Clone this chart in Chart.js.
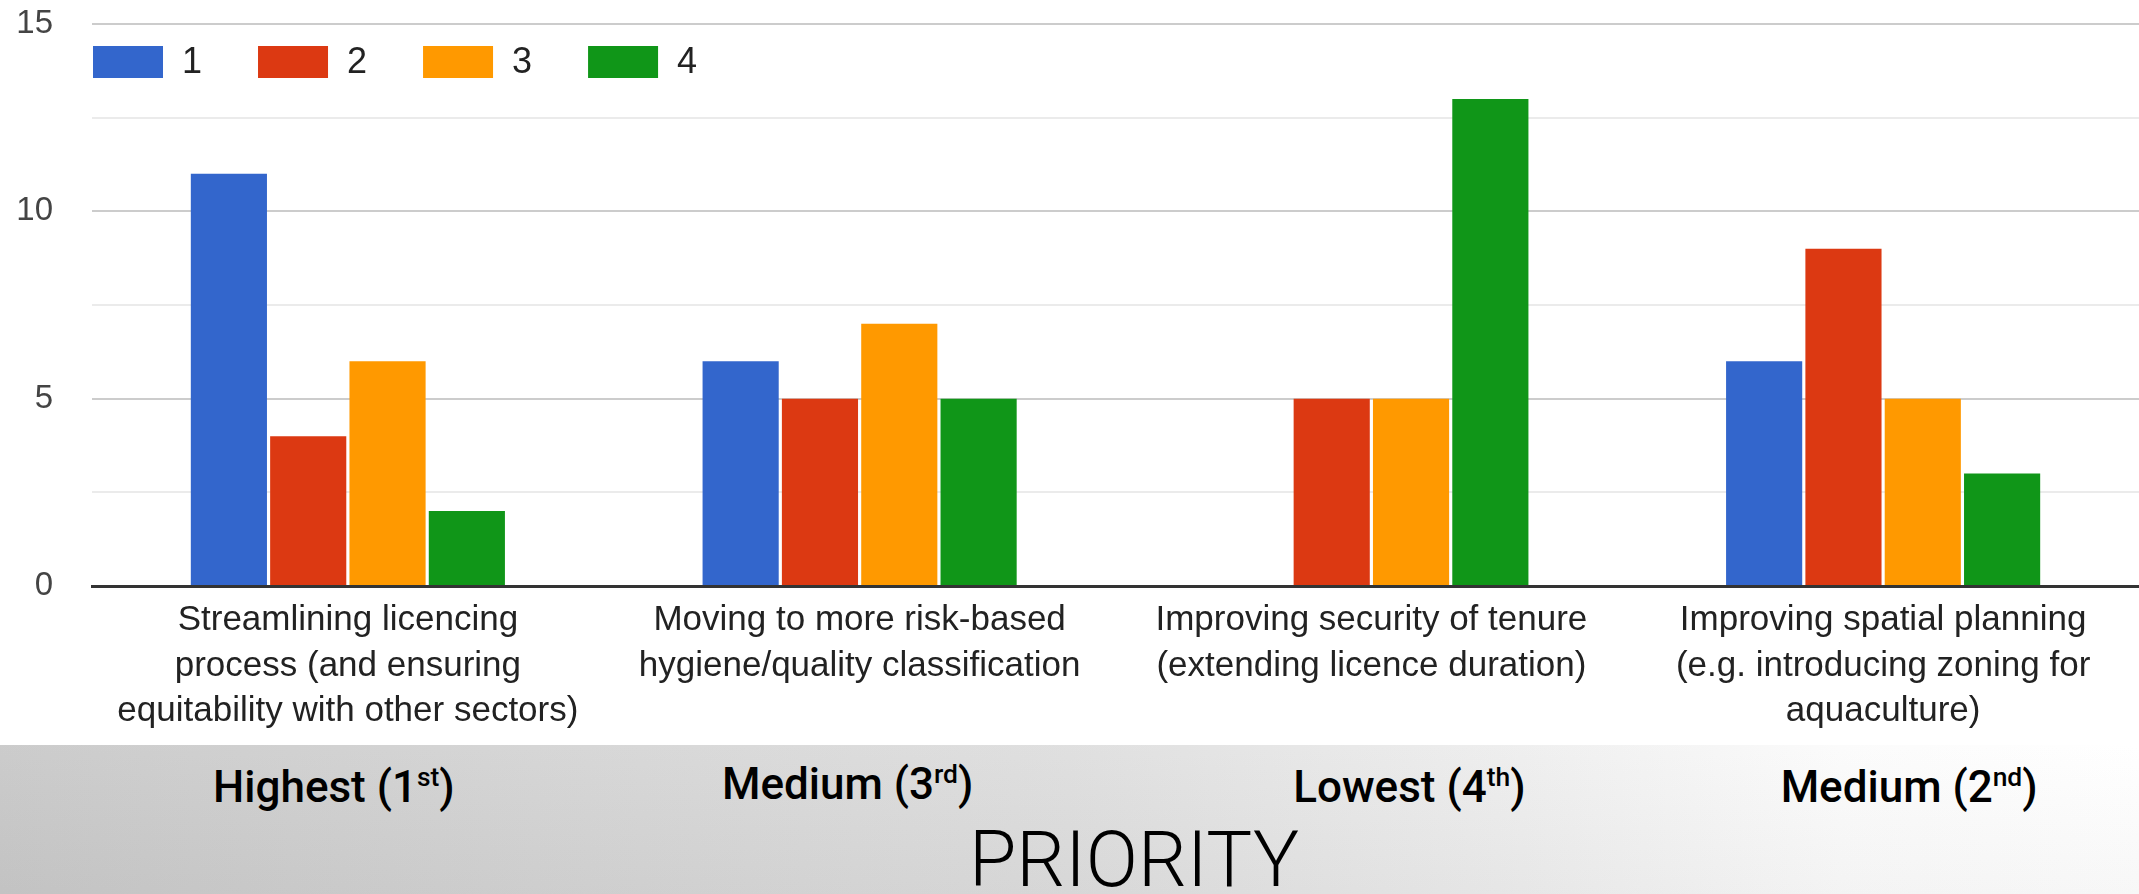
<!DOCTYPE html>
<html><head><meta charset="utf-8">
<script src="https://cdn.jsdelivr.net/npm/chart.js@4.4.0/dist/chart.umd.min.js"></script>
<style>
html,body{margin:0;padding:0;background:#fff;width:2139px;height:894px;overflow:hidden}
#wrap{position:absolute;left:0;top:0;width:2139px;height:745px}
#band{position:absolute;left:0;top:745px;width:2139px;height:149px;
  background:linear-gradient(to bottom, rgba(255,255,255,0.05), rgba(0,0,0,0.03)),
             linear-gradient(to right, #c9c9c9 0%, #d4d4d4 25%, #dedede 50%, #ededed 70%, #fbfbfb 86%, #ffffff 100%);}
.pl{position:absolute;top:20px;font-family:Roboto,"Liberation Sans",sans-serif;font-weight:500;font-size:44px;line-height:44px;color:#000;white-space:nowrap;transform:translateX(-50%)}
.pl .s{font-size:0.6em;position:relative;top:-0.62em}
#prio{position:absolute;top:77px;left:1134px;transform:translateX(-50%);font-family:Roboto,sans-serif;font-weight:300;font-size:77px;line-height:77px;color:#000;white-space:nowrap}
</style></head>
<body>
<div id="wrap"><canvas id="c" width="2139" height="745"></canvas></div>
<div id="band"><div id="prio">PRIORITY</div></div>
<script>
const categories = [
  ["Streamlining licencing", "process (and ensuring", "equitability with other sectors)"],
  ["Moving to more risk-based", "hygiene/quality classification"],
  ["Improving security of tenure", "(extending licence duration)"],
  ["Improving spatial planning", "(e.g. introducing zoning for", "aquaculture)"]
];
const seriesNames = ["1", "2", "3", "4"];
const series1 = [11, 6, 0, 6];
const series2 = [4, 5, 5, 9];
const series3 = [6, 7, 5, 5];
const series4 = [2, 5, 13, 3];
const yTickLabels = [0, 5, 10, 15];
const priorityWords = ["Highest", "Medium", "Lowest", "Medium"];
const priorityRanks = ["1", "3", "4", "2"];
const prioritySuffixes = ["st", "rd", "th", "nd"];

const colors = ["#3366cc", "#dc3912", "#ff9900", "#109618"];
const priorityOffsets = [-14, -12, 38, 26];
const priorityTopShift = [0, -3, 0, 0];

const legendPlugin = {
  id: 'gleg',
  afterDraw(chart) {
    const ctx = chart.ctx, a = chart.chartArea;
    let x = a.left + 1;
    const y = a.top + 22;
    ctx.save();
    ctx.font = '36px "Liberation Sans", Arial, sans-serif';
    ctx.textBaseline = 'middle';
    chart.data.datasets.forEach(ds => {
      ctx.fillStyle = ds.backgroundColor;
      ctx.fillRect(x, y, 70, 32);
      ctx.fillStyle = '#222';
      ctx.fillText(ds.label, x + 89, y + 17);
      x += 70 + 19 + ctx.measureText(ds.label).width + 56;
    });
    ctx.restore();
  }
};

const chart = new Chart(document.getElementById('c'), {
  type: 'bar',
  data: {
    labels: categories,
    datasets: [series1, series2, series3, series4].map((d, i) => ({
      label: seriesNames[i], data: d, backgroundColor: colors[i],
      categoryPercentage: 0.62, barPercentage: 0.96, borderWidth: 0
    }))
  },
  options: {
    responsive: false, animation: false, devicePixelRatio: 1,
    layout: { padding: { top: 24, left: 0, right: 0, bottom: 0 } },
    plugins: { legend: { display: false }, tooltip: { enabled: false } },
    scales: {
      x: {
        grid: { display: false, drawTicks: false },
        border: { display: true, color: '#333', width: 3 },
        ticks: { font: { family: '"Liberation Sans", Arial, sans-serif', size: 35, lineHeight: 1.3 }, color: '#222', padding: 12, maxRotation: 0, autoSkip: false },
        afterFit(s) { s.height = 159; s.paddingLeft = 0; s.paddingRight = 0; }
      },
      y: {
        min: 0, max: 15,
        grid: { drawTicks: false, lineWidth: 2, color: c => (c.tick && c.tick.value % 5 === 0) ? '#cccccc' : '#ebebeb' },
        border: { display: false },
        ticks: { stepSize: 2.5, callback: v => yTickLabels.includes(v) ? String(v) : '',
          font: { family: '"Liberation Sans", Arial, sans-serif', size: 33 }, color: '#444', padding: 39 },
        afterFit(s) { s.width = 92; s.paddingTop = 0; s.paddingBottom = 0; }
      }
    }
  },
  plugins: [legendPlugin]
});

const band = document.getElementById('band');
priorityWords.forEach((w, i) => {
  const d = document.createElement('div');
  d.className = 'pl';
  d.innerHTML = w + ' (' + priorityRanks[i] + '<span class="s">' + prioritySuffixes[i] + '</span>)';
  d.style.left = (chart.scales.x.getPixelForValue(i) + priorityOffsets[i]) + 'px';
  d.style.top = (20 + priorityTopShift[i]) + 'px';
  band.appendChild(d);
});
</script>
</body></html>
